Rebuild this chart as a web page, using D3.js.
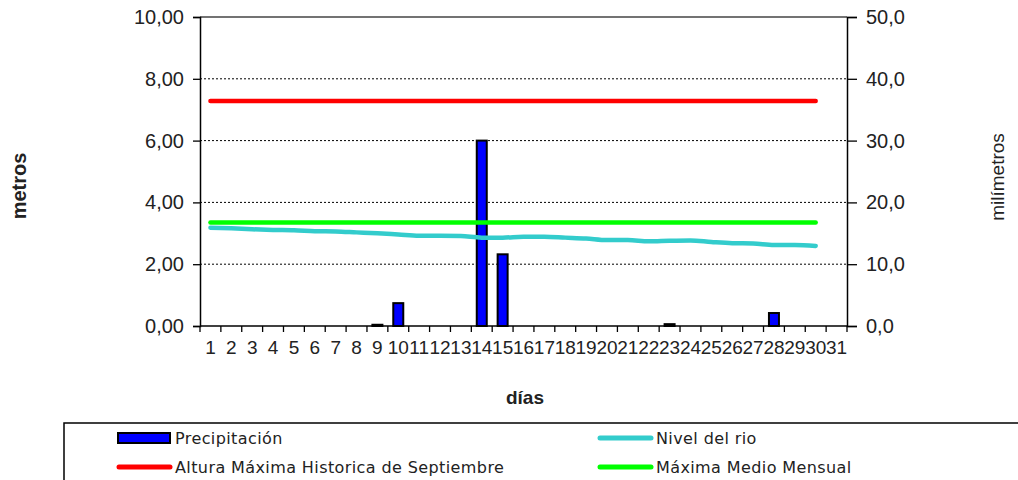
<!DOCTYPE html>
<html><head><meta charset="utf-8">
<script src="https://cdn.jsdelivr.net/npm/d3@7"></script>
<style>body{margin:0;background:#fff}svg{display:block}</style>
</head><body><svg id="c" width="1018" height="480"></svg>
<script>
const days = ["1","2","3","4","5","6","7","8","9","10","11","12","13","14","15","16","17","18","19","20","21","22","23","24","25","26","27","28","29","30","31"];
const precipitacion = [null,null,null,null,null,null,null,null,0.2,3.7,null,null,null,30.0,11.6,null,null,null,null,null,null,null,0.3,null,null,null,null,2.1,null,null,null];
const nivelRio = [3.18,3.16,3.13,3.11,3.10,3.07,3.06,3.03,3.00,2.96,2.92,2.92,2.91,2.86,2.86,2.89,2.89,2.86,2.83,2.78,2.78,2.74,2.76,2.77,2.72,2.68,2.67,2.62,2.62,2.59,null];
const alturaMaxHist = [7.28,7.28,7.28,7.28,7.28,7.28,7.28,7.28,7.28,7.28,7.28,7.28,7.28,7.28,7.28,7.28,7.28,7.28,7.28,7.28,7.28,7.28,7.28,7.28,7.28,7.28,7.28,7.28,7.28,7.28,null];
const maximaMedio = [3.35,3.35,3.35,3.35,3.35,3.35,3.35,3.35,3.35,3.35,3.35,3.35,3.35,3.35,3.35,3.35,3.35,3.35,3.35,3.35,3.35,3.35,3.35,3.35,3.35,3.35,3.35,3.35,3.35,3.35,null];
const leftTicks = [0,2,4,6,8,10];
const rightTicks = [0,10,20,30,40,50];
const legendItems = ["Precipitación","Nivel del rio","Altura Máxima Historica de Septiembre","Máxima Medio Mensual"];

const svg = d3.select("#c");
const L=200,R=847,T=17,B=326;
const x = d3.scaleBand().domain(days).range([L,R]).padding(0);
const yL = d3.scaleLinear().domain([0,10]).range([B,T]);
const yR = d3.scaleLinear().domain([0,50]).range([B,T]);
const font = "'Liberation Sans', Arial, sans-serif";

// grid
svg.append("g").selectAll("line").data(leftTicks.filter(d=>d>0&&d<10)).join("line")
  .attr("x1",L).attr("x2",R).attr("y1",d=>yL(d)).attr("y2",d=>yL(d))
  .attr("stroke","#000").attr("stroke-width",1).attr("stroke-dasharray","2,2");
svg.append("line").attr("x1",L).attr("x2",R).attr("y1",yL(10)).attr("y2",yL(10)).attr("stroke","#444").attr("stroke-width",1.5);

// left axis
const gL = svg.append("g").attr("transform",`translate(${L},0)`)
  .call(d3.axisLeft(yL).tickValues(leftTicks).tickSize(7).tickPadding(9).tickFormat(d=>d3.format(".2f")(d).replace(".",",")));
// right axis
const gR = svg.append("g").attr("transform",`translate(${R},0)`)
  .call(d3.axisRight(yR).tickValues(rightTicks).tickSize(10).tickPadding(9).tickFormat(d=>d3.format(".1f")(d).replace(".",",")));
// bottom axis
const gB = svg.append("g").attr("transform",`translate(0,${B})`)
  .call(d3.axisBottom(x).tickSize(0).tickPadding(15));
// boundary ticks
const bounds = days.map(d=>x(d)).concat([R]);
svg.append("g").selectAll("line").data(bounds).join("line")
  .attr("x1",d=>d).attr("x2",d=>d).attr("y1",B).attr("y2",B+6).attr("stroke","#000").attr("stroke-width",1.3);

[gL,gR,gB].forEach(g=>{
  g.select(".domain").attr("stroke","#000").attr("stroke-width",1.5);
  g.selectAll(".tick line").attr("stroke","#000").attr("stroke-width",1.3);
  g.selectAll("text").attr("font-family",font).attr("fill","#222");
});
gL.selectAll("text").attr("font-size",20);
gR.selectAll("text").attr("font-size",20);
gB.selectAll("text").attr("font-size",19);
gB.select(".domain").attr("d",`M${L},0H${R}`);

// bars
const bw = 10;
svg.append("g").selectAll("rect").data(days.map((d,i)=>({d,v:precipitacion[i]})).filter(o=>o.v!=null)).join("rect")
  .attr("x",o=>x(o.d)+x.bandwidth()/2-bw/2).attr("width",bw)
  .attr("y",o=>yR(o.v)).attr("height",o=>yR(0)-yR(o.v))
  .attr("fill","#0000ff").attr("stroke","#000").attr("stroke-width",2);

function drawLine(vals,color){
  const line = d3.line().defined(d=>d.v!=null).x(d=>x(d.d)+x.bandwidth()/2).y(d=>yL(d.v)).curve(d3.curveMonotoneX);
  svg.append("path").datum(days.map((d,i)=>({d,v:vals[i]})))
    .attr("d",line).attr("fill","none").attr("stroke",color).attr("stroke-width",4.5).attr("stroke-linecap","round");
}
drawLine(nivelRio,"#33cccc");
drawLine(alturaMaxHist,"#ff0000");
drawLine(maximaMedio,"#00ff00");

// axis titles
svg.append("text").attr("transform","translate(26,186) rotate(-90)").attr("text-anchor","middle")
  .attr("font-family",font).attr("font-weight","bold").attr("font-size",20).attr("fill","#222").text("metros");
svg.append("text").attr("transform","translate(1004,177) rotate(-90)").attr("text-anchor","middle")
  .attr("font-family",font).attr("font-size",19).attr("fill","#222").text("milímetros");
svg.append("text").attr("x",525).attr("y",404).attr("text-anchor","middle")
  .attr("font-family",font).attr("font-weight","bold").attr("font-size",19).attr("fill","#222").text("días");

// legend
svg.append("rect").attr("x",64).attr("y",423).attr("width",1000).attr("height",100)
  .attr("fill","#fff").attr("stroke","#000").attr("stroke-width",1.5);
const lf = "'DejaVu Sans', sans-serif";
const pos = [{x:118,y:438},{x:599,y:438},{x:118,y:467},{x:599,y:467}];
const colors = ["#0000ff","#33cccc","#ff0000","#00ff00"];
legendItems.forEach((t,i)=>{
  const p = pos[i];
  if(i===0){
    svg.append("rect").attr("x",p.x).attr("y",p.y-5).attr("width",52).attr("height",10)
      .attr("fill",colors[i]).attr("stroke","#000").attr("stroke-width",2);
  } else {
    svg.append("line").attr("x1",p.x+1).attr("x2",p.x+52).attr("y1",p.y).attr("y2",p.y)
      .attr("stroke",colors[i]).attr("stroke-width",5).attr("stroke-linecap","round");
  }
  svg.append("text").attr("x",p.x+57).attr("y",p.y).attr("dy","0.35em")
    .attr("font-family",lf).attr("font-size",16).attr("letter-spacing","0.4px").attr("fill","#222").text(t);
});
</script></body></html>
